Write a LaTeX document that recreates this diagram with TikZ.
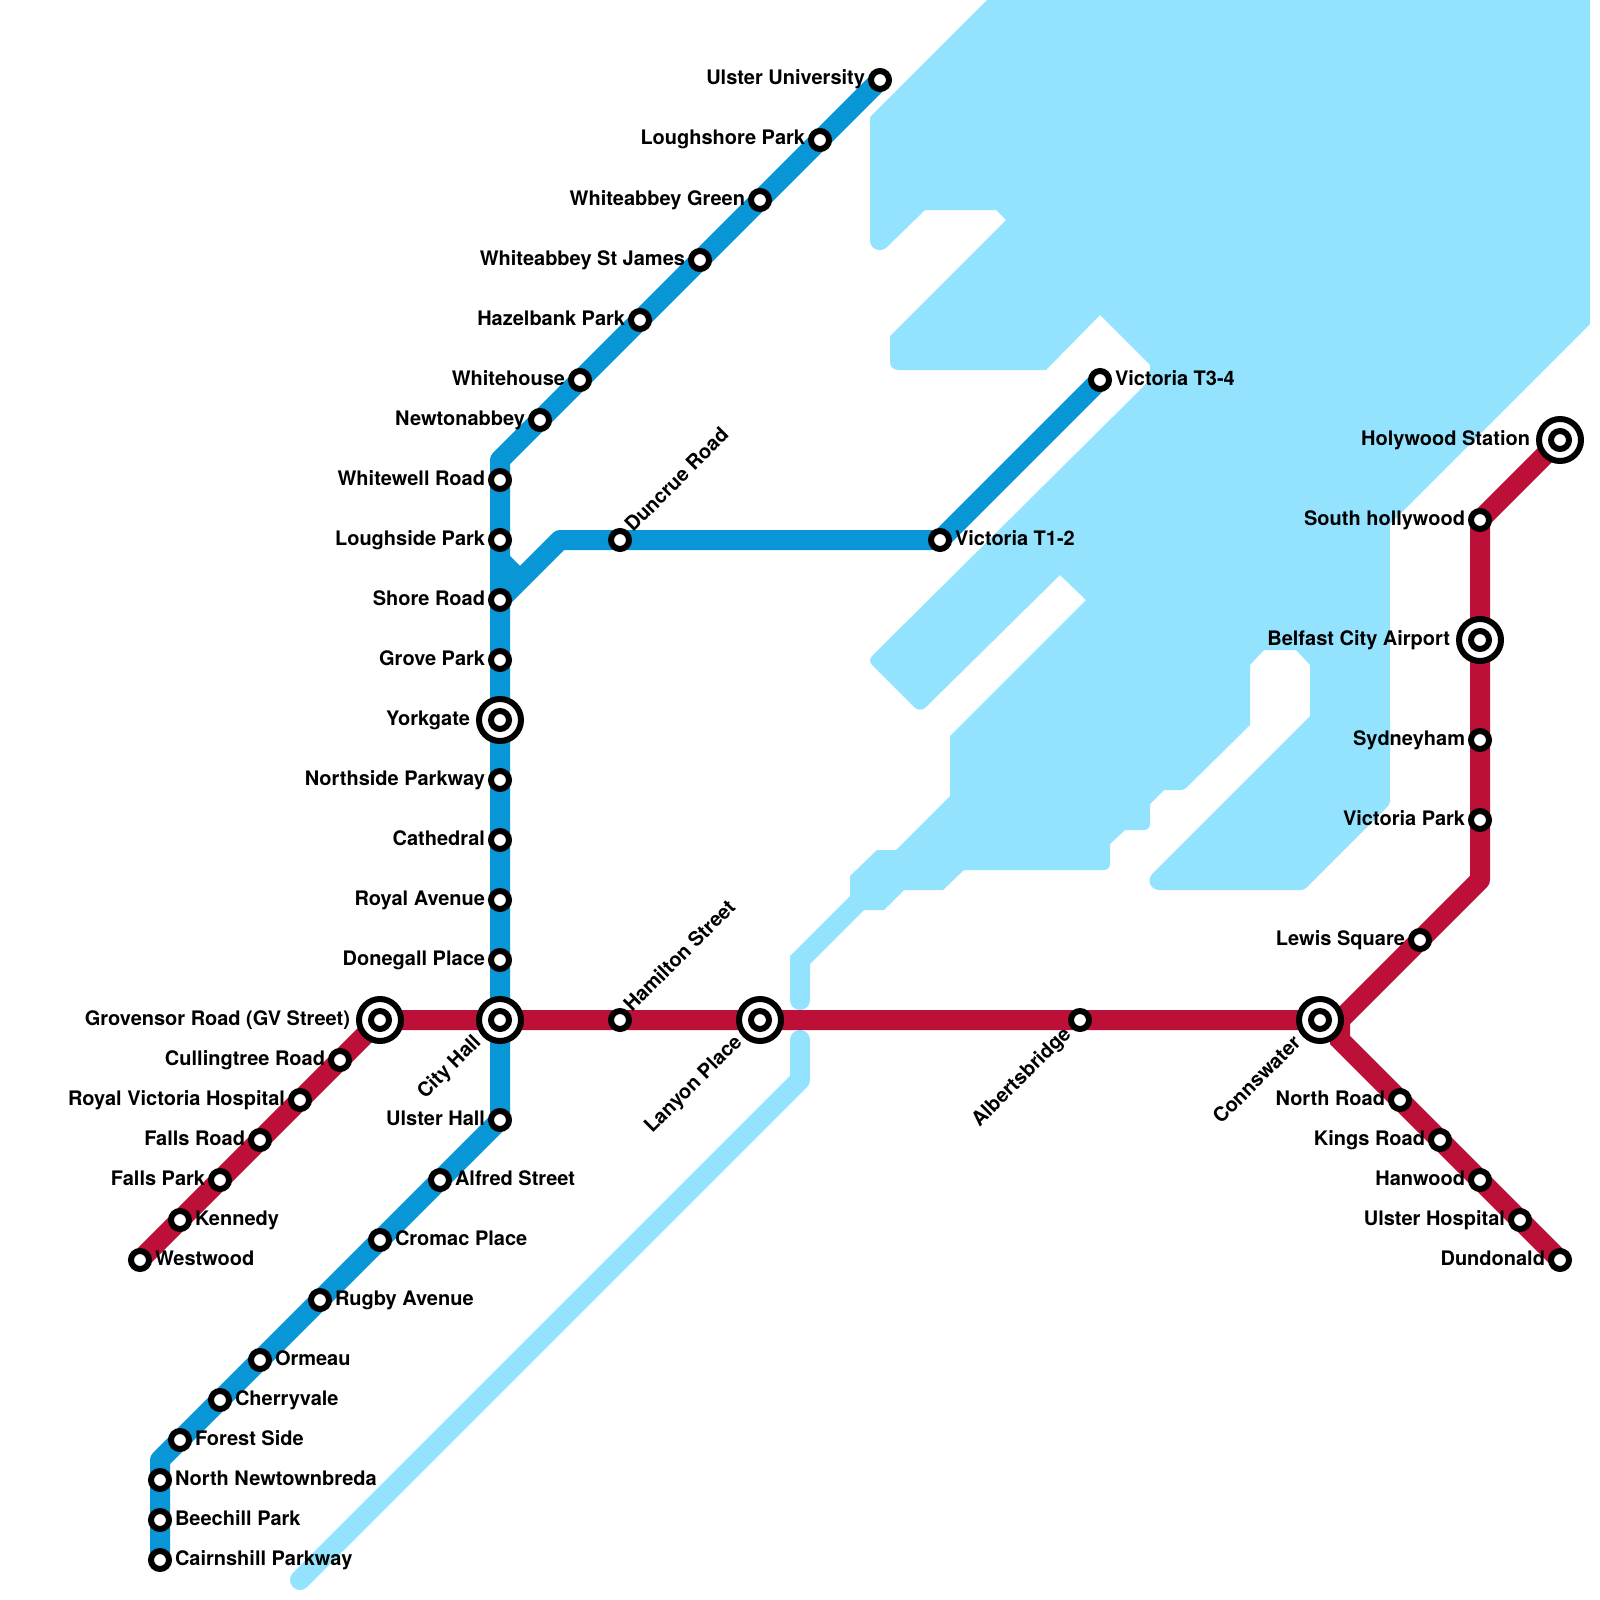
\documentclass[tikz,border=0pt]{standalone}
\usepackage{fontspec}
\setmainfont{TeX Gyre Heros}
\usetikzlibrary{backgrounds}
\definecolor{waterblue}{HTML}{94E3FE}
\definecolor{lineblue}{HTML}{0896D7}
\definecolor{linered}{HTML}{BD1038}
\tikzset{
  station/.style={circle,draw=black,fill=white,line width=6,minimum size=18,inner sep=0,outer sep=6},
  hubring/.style={station,minimum size=42,outer sep=9},
  every label/.style={font=\bfseries\fontsize{20}{24}\selectfont,text=black,inner sep=0,outer sep=0,text height=14.5,text depth=4.5},
  namerot/.style={font=\bfseries\fontsize{20}{24}\selectfont,inner sep=0,text height=14.5,text depth=6,rotate=45},
  metroline/.style={line width=20,line join=round},
}
\begin{document}
\begin{tikzpicture}[x=1pt,y=-1pt]
\useasboundingbox (0,0) rectangle (1600,1600);
% blue line, north to south
\node[station,label={left:Ulster University}] (ulsteruni) at (880,80) {};
\node[station,label={left:Loughshore Park}] (loughshore) at (820,140) {};
\node[station,label={left:Whiteabbey Green}] (abbeygreen) at (760,200) {};
\node[station,label={left:Whiteabbey St James}] (abbeyjames) at (700,260) {};
\node[station,label={left:Hazelbank Park}] (hazelbank) at (640,320) {};
\node[station,label={left:Whitehouse}] (whitehouse) at (580,380) {};
\node[station,label={left:Newtonabbey}] (newtonabbey) at (540,420) {};
\coordinate (bendnorth) at (500,460);
\node[station,label={left:Whitewell Road}] (whitewell) at (500,480) {};
\node[station,label={left:Loughside Park}] (loughside) at (500,540) {};
\node[station,label={left:Shore Road}] (shoreroad) at (500,600) {};
\node[station,label={left:Grove Park}] (grovepark) at (500,660) {};
\node[hubring,label={left:Yorkgate}] (yorkgate) at (500,720) {};
\node[station] (yorkgatein) at (yorkgate) {};
\node[station,label={left:Northside Parkway}] (northside) at (500,780) {};
\node[station,label={left:Cathedral}] (cathedral) at (500,840) {};
\node[station,label={left:Royal Avenue}] (royalave) at (500,900) {};
\node[station,label={left:Donegall Place}] (donegall) at (500,960) {};
\node[hubring] (cityhall) at (500,1020) {};
\node[station] (cityhallin) at (cityhall) {};
\node[station,label={left:Ulster Hall}] (ulsterhall) at (500,1120) {};
\node[station,label={right:Alfred Street}] (alfred) at (440,1180) {};
\node[station,label={right:Cromac Place}] (cromac) at (380,1240) {};
\node[station,label={right:Rugby Avenue}] (rugby) at (320,1300) {};
\node[station,label={right:Ormeau}] (ormeau) at (260,1360) {};
\node[station,label={right:Cherryvale}] (cherryvale) at (220,1400) {};
\node[station,label={right:Forest Side}] (forestside) at (180,1440) {};
\coordinate (bendsouth) at (160,1460);
\node[station,label={right:North Newtownbreda}] (newtownbreda) at (160,1480) {};
\node[station,label={right:Beechill Park}] (beechill) at (160,1520) {};
\node[station,label={right:Cairnshill Parkway}] (cairnshill) at (160,1560) {};
% blue branch
\coordinate (notchtop) at (500,560);
\coordinate (notchend) at (520,580);
\coordinate (bendbranch) at (560,540);
\node[station] (duncrue) at (620,540) {};
\node[station,label={right:Victoria T1-2}] (victoriaone) at (940,540) {};
\node[station,label={right:Victoria T3-4}] (victoriathree) at (1100,380) {};
% red line
\node[station,label={right:Westwood}] (westwood) at (140,1260) {};
\node[station,label={right:Kennedy}] (kennedy) at (180,1220) {};
\node[station,label={left:Falls Park}] (fallspark) at (220,1180) {};
\node[station,label={left:Falls Road}] (fallsroad) at (260,1140) {};
\node[station,label={left:Royal Victoria Hospital}] (royalvictoria) at (300,1100) {};
\node[station,label={left:Cullingtree Road}] (cullingtree) at (340,1060) {};
\node[hubring,label={left:Grovensor Road (GV Street)}] (grovensor) at (380,1020) {};
\node[station] (grovensorin) at (grovensor) {};
\node[station] (hamilton) at (620,1020) {};
\node[hubring] (lanyon) at (760,1020) {};
\node[station] (lanyonin) at (lanyon) {};
\node[station] (albertsbridge) at (1080,1020) {};
\node[hubring] (connswater) at (1320,1020) {};
\node[station] (connswaterin) at (connswater) {};
\coordinate (forkred) at (1340,1020);
\coordinate (forkdown) at (1340,1040);
\node[station,label={left:Lewis Square}] (lewis) at (1420,940) {};
\coordinate (bendeast) at (1480,880);
\node[station,label={left:Victoria Park}] (victoriapark) at (1480,820) {};
\node[station,label={left:Sydneyham}] (sydneyham) at (1480,740) {};
\node[hubring,label={left:Belfast City Airport}] (airport) at (1480,640) {};
\node[station] (airportin) at (airport) {};
\node[station,label={left:South hollywood}] (southholly) at (1480,520) {};
\node[hubring,label={left:Holywood Station}] (holywood) at (1560,440) {};
\node[station] (holywoodin) at (holywood) {};
\node[station,label={left:North Road}] (northroad) at (1400,1100) {};
\node[station,label={left:Kings Road}] (kingsroad) at (1440,1140) {};
\node[station,label={left:Hanwood}] (hanwood) at (1480,1180) {};
\node[station,label={left:Ulster Hospital}] (ulsterhosp) at (1520,1220) {};
\node[station,label={left:Dundonald}] (dundonald) at (1560,1260) {};
% slanted names
\node[namerot,anchor=west] (duncruename) at (630,530) {Duncrue Road};
\node[namerot,anchor=west] (hamiltonname) at (629,1010) {Hamilton Street};
\node[namerot,anchor=east] (cityhallname) at (479,1040) {City Hall};
\node[namerot,anchor=east] (lanyonname) at (740,1040) {Lanyon Place};
\node[namerot,anchor=east] (albertsname) at (1069,1032) {Albertsbridge};
\node[namerot,anchor=east] (connsname) at (1299,1041) {Connswater};
\begin{scope}[on background layer]
% water
\fill[waterblue] (987,0) -- (1590,0) -- (1590,324) -- (1390,524) [rounded corners=3] -- (1390,804) -- (1304,890) [sharp corners]
  -- (1160,890) .. controls (1150,890) and (1146,880) .. (1153,873) -- (1310,716) -- (1310,665) -- (1296,650) -- (1264,650) -- (1250,665) -- (1250,725)
  [rounded corners=3] -- (1184,790) [sharp corners] -- (1164,790) -- (1150,804) [rounded corners=6] -- (1150,830) [sharp corners]
  -- (1125,830) -- (1110,844) [rounded corners=6] -- (1110,870) [sharp corners] -- (964,870) -- (943,890) -- (904,890) -- (884,910) -- (864,910)
  -- (810,964) [rounded corners=9.9] -- (810,1010) -- (790,1010) [sharp corners] -- (790,956) -- (850,896) -- (850,876) -- (877,850) -- (896,850)
  -- (950,796) -- (950,736) -- (1086,600) -- (1060,575) -- (927,706) .. controls (923,711) and (917,711) .. (913,706)
  -- (873,666) .. controls (869,662) and (869,659) .. (873,655) -- (1150,380) -- (1150,365) -- (1100,315) -- (1046,370) [rounded corners=8] -- (890,370) [sharp corners] -- (890,336) -- (1006,220) -- (996,210)
  -- (925,210) -- (887,247) .. controls (881,253) and (870,250) .. (870,240) -- (870,117) -- cycle;
\draw[waterblue,line width=20,line cap=round,line join=round] (800,1040) -- (800,1080) -- (300,1580);
% lines
\draw[metroline,lineblue] (ulsteruni.center) -- (bendnorth) -- (ulsterhall.center) -- (bendsouth) -- (cairnshill.center);
\draw[metroline,lineblue] (shoreroad.center) -- (bendbranch) -- (victoriaone.center) -- (victoriathree.center);
\draw[metroline,lineblue] (notchtop) -- (notchend);
\draw[metroline,linered] (westwood.center) -- (grovensor.center) -- (forkred) -- (bendeast) -- (southholly.center) -- (holywood.center);
\draw[metroline,linered,line join=miter] (forkred) -- (forkdown) -- (dundonald.center);
\end{scope}
\end{tikzpicture}
\end{document}
